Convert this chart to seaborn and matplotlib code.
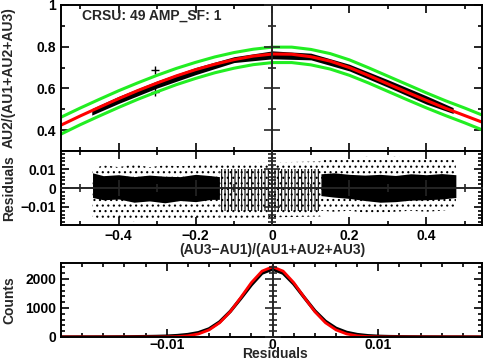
import numpy as np
import pandas as pd
import seaborn as sns
import matplotlib.pyplot as plt
from matplotlib.ticker import MultipleLocator

# fit curve and error envelope, top panel
fit_x = [-0.55, -0.50, -0.45, -0.40, -0.35, -0.30, -0.25, -0.20, -0.15, -0.10, -0.05, 0.00,
         0.05, 0.10, 0.15, 0.20, 0.25, 0.30, 0.35, 0.40, 0.45, 0.50, 0.55]
fit_y = [0.424, 0.468, 0.510, 0.551, 0.590, 0.626, 0.660, 0.690, 0.716, 0.738, 0.755, 0.765,
         0.764, 0.752, 0.731, 0.700, 0.662, 0.622, 0.582, 0.543, 0.505, 0.470, 0.435]
env_hi = [0.462, 0.506, 0.548, 0.589, 0.627, 0.663, 0.696, 0.725, 0.751, 0.772, 0.788, 0.798,
          0.798, 0.787, 0.767, 0.737, 0.699, 0.659, 0.619, 0.579, 0.541, 0.506, 0.469]
env_lo = [0.381, 0.426, 0.468, 0.509, 0.548, 0.584, 0.618, 0.648, 0.675, 0.697, 0.714, 0.724,
          0.724, 0.713, 0.693, 0.663, 0.626, 0.586, 0.546, 0.507, 0.470, 0.435, 0.398]

# measured points (dense band) top panel
band_x = [-0.47, -0.40, -0.30, -0.20, -0.10, 0.00, 0.10, 0.20, 0.30, 0.40, 0.47]
band_hi = [0.503, 0.562, 0.636, 0.700, 0.752, 0.780, 0.769, 0.716, 0.642, 0.565, 0.508]
band_lo = [0.472, 0.528, 0.602, 0.666, 0.724, 0.742, 0.737, 0.684, 0.606, 0.525, 0.480]
out_x = [-0.305, -0.305]
out_y = [0.690, 0.583]

# residuals: dense core, sparse halo, striped centre
resL_x = [-0.468, -0.44, -0.40, -0.36, -0.32, -0.28, -0.24, -0.20, -0.16, -0.138]
resL_core_hi = [0.008, 0.0065, 0.007, 0.006, 0.0068, 0.0062, 0.006, 0.0072, 0.0065, 0.006]
resL_core_lo = [-0.005, -0.0062, -0.0058, -0.0075, -0.0068, -0.0078, -0.0066, -0.0072, -0.006, -0.006]
resL_sp_hi = [0.010, 0.012, 0.011, 0.0125, 0.011, 0.012, 0.0115, 0.012, 0.0125, 0.012]
resL_sp_lo = [-0.015, -0.017, -0.0165, -0.0175, -0.017, -0.017, -0.0165, -0.017, -0.016, -0.016]
resM_x = [-0.138, 0.126]
resM_hi = [0.010, 0.010]
resM_lo = [-0.012, -0.012]
resM_sp_hi = [0.013, 0.014]
resM_sp_lo = [-0.016, -0.015]
resR_x = [0.126, 0.16, 0.20, 0.24, 0.28, 0.32, 0.36, 0.40, 0.44, 0.477]
resR_core_hi = [0.0075, 0.008, 0.0072, 0.0068, 0.0072, 0.0066, 0.0075, 0.007, 0.0076, 0.007]
resR_core_lo = [-0.004, -0.0048, -0.0055, -0.0066, -0.0075, -0.0072, -0.0064, -0.0062, -0.0058, -0.005]
resR_sp_hi = [0.015, 0.016, 0.0155, 0.0165, 0.016, 0.0165, 0.016, 0.0155, 0.016, 0.015]
resR_sp_lo = [-0.012, -0.0125, -0.012, -0.013, -0.013, -0.0125, -0.012, -0.0125, -0.012, -0.011]

# residual histogram
hist_x = [round(-0.020 + 0.001 * i, 3) for i in range(41)]
hist_counts = [2, 2, 3, 3, 4, 5, 7, 10, 14, 20, 30, 50, 85, 150, 280, 520, 880, 1330, 1800, 2200,
               2340, 2200, 1830, 1360, 900, 540, 300, 160, 85, 45, 25, 15, 10, 7, 5, 4, 3, 2, 2, 1, 1]
gauss_counts = [0, 0, 0, 0, 0, 0, 0, 0, 0, 1, 4, 14, 41, 106, 244, 491, 872, 1363, 1875, 2270,
                2420, 2270, 1875, 1363, 872, 491, 244, 106, 41, 14, 4, 1, 0, 0, 0, 0, 0, 0, 0, 0, 0]

sns.set_style("ticks")
plt.rcParams['font.family'] = ['Liberation Sans', 'DejaVu Sans']
plt.rcParams['font.weight'] = 'bold'
plt.rcParams['font.size'] = 10
plt.rcParams['hatch.linewidth'] = 0.8
plt.rcParams['axes.linewidth'] = 1.4

fig = plt.figure(figsize=(4.86, 3.61), dpi=100)
W, H = 486, 361


def box(x0, y0, x1, y1):
    return [x0 / W, 1 - y1 / H, (x1 - x0) / W, (y1 - y0) / H]


def style(ax):
    ax.tick_params(which='both', direction='in', top=True, right=True, width=1.2, colors='black')
    ax.tick_params(which='major', length=6)
    ax.tick_params(which='minor', length=3)
    for s in ax.spines.values():
        s.set_color('black')


def zero_axis(ax, vert=True, horiz=False):
    ov = fig.add_axes(ax.get_position(), sharex=ax, sharey=ax)
    ov.patch.set_visible(False)
    ov.spines['top'].set_visible(False)
    ov.spines['right'].set_visible(False)
    if vert:
        ov.spines['left'].set_position(('data', 0))
    else:
        ov.spines['left'].set_visible(False)
    if horiz:
        ov.spines['bottom'].set_position(('data', 0))
    else:
        ov.spines['bottom'].set_visible(False)
    ov.tick_params(which='both', direction='inout', left=vert, bottom=horiz, top=False, right=False,
                   labelleft=False, labelbottom=False, width=1.2)
    ov.tick_params(which='major', length=12)
    ov.tick_params(which='minor', length=6)
    return ov


# top panel
ax1 = fig.add_axes(box(61, 5, 482, 151))
ax1.fill_between(band_x, band_lo, band_hi, color='black', lw=0)
sns.scatterplot(x=out_x, y=out_y, marker='+', color='black', s=30, linewidth=1, ax=ax1)
sns.lineplot(x=fit_x, y=env_hi, color='#22ee22', linewidth=2.2, ax=ax1)
sns.lineplot(x=fit_x, y=env_lo, color='#22ee22', linewidth=2.2, ax=ax1)
sns.lineplot(x=fit_x, y=fit_y, color='red', linewidth=2.2, ax=ax1)
ax1.set_xlim(-0.55, 0.545)
ax1.set_ylim(0.3, 1.0)
ax1.set_yticks([0.4, 0.6, 0.8, 1.0], ['0.4', '0.6', '0.8', '1'])
ax1.xaxis.set_major_locator(MultipleLocator(0.2))
ax1.xaxis.set_minor_locator(MultipleLocator(0.1))
ax1.yaxis.set_minor_locator(MultipleLocator(0.1))
ax1.tick_params(labelbottom=False)
style(ax1)
ax1.text(0.05, 0.93, 'CRSU: 49 AMP_SF: 1', transform=ax1.transAxes, ha='left', va='center')
zero_axis(ax1)

# residual panel
ax2 = fig.add_axes(box(61, 151, 482, 225))
ax2.fill_between(resL_x, resL_sp_lo, resL_sp_hi, facecolor='none', edgecolor='black', hatch='...', lw=0)
ax2.fill_between(resM_x, resM_sp_lo, resM_sp_hi, facecolor='none', edgecolor='black', hatch='...', lw=0)
ax2.fill_between(resR_x, resR_sp_lo, resR_sp_hi, facecolor='none', edgecolor='black', hatch='...', lw=0)
ax2.fill_between(resL_x, resL_core_lo, resL_core_hi, color='black', lw=0)
ax2.fill_between(resR_x, resR_core_lo, resR_core_hi, color='black', lw=0)
ax2.fill_between(resM_x, resM_lo, resM_hi, facecolor='none', edgecolor='black', hatch='|||||', lw=0)
ax2.set_xlim(-0.55, 0.545)
ax2.set_ylim(-0.0195, 0.0195)
ax2.set_xticks([-0.4, -0.2, 0, 0.2, 0.4], ['\u22120.4', '\u22120.2', '0', '0.2', '0.4'])
ax2.set_yticks([-0.01, 0, 0.01], ['\u22120.01', '0', '0.01'])
ax2.xaxis.set_minor_locator(MultipleLocator(0.1))
ax2.yaxis.set_minor_locator(MultipleLocator(0.002))
style(ax2)
ax2.tick_params(axis='x', pad=3)
zero_axis(ax2, vert=True, horiz=True)

# histogram panel
ax3 = fig.add_axes(box(61, 263, 482, 337))
hist = pd.DataFrame({'res': hist_x, 'data': hist_counts, 'fit': gauss_counts})
sns.lineplot(data=hist, x='res', y='data', color='black', linewidth=2.4, ax=ax3)
sns.lineplot(data=hist, x='res', y='fit', color='red', linewidth=2.0, ax=ax3)
ax3.set_xlim(-0.02, 0.0198)
ax3.set_ylim(0, 2550)
ax3.set_xticks([-0.01, 0, 0.01], ['\u22120.01', '0', '0.01'])
ax3.set_yticks([0, 1000, 2000])
ax3.xaxis.set_minor_locator(MultipleLocator(0.002))
ax3.yaxis.set_minor_locator(MultipleLocator(200))
ax3.set_xlabel('')
ax3.set_ylabel('')
style(ax3)
ax3.tick_params(axis='x', pad=1)
zero_axis(ax3)

for a in (ax1, ax2):
    a.set_xlabel('')
    a.set_ylabel('')

fig.text(9 / W, 1 - 78 / H, 'AU2/(AU1+AU2+AU3)', rotation=90, ha='center', va='center')
fig.text(9 / W, 1 - 188 / H, 'Residuals', rotation=90, ha='center', va='center')
fig.text(272 / W, 1 - 250 / H, '(AU3\u2212AU1)/(AU1+AU2+AU3)', ha='center', va='center')
fig.text(9 / W, 1 - 300 / H, 'Counts', rotation=90, ha='center', va='center')
fig.text(275 / W, 1 - 354 / H, 'Residuals', ha='center', va='center')

fig.savefig('out.png', dpi=100)
